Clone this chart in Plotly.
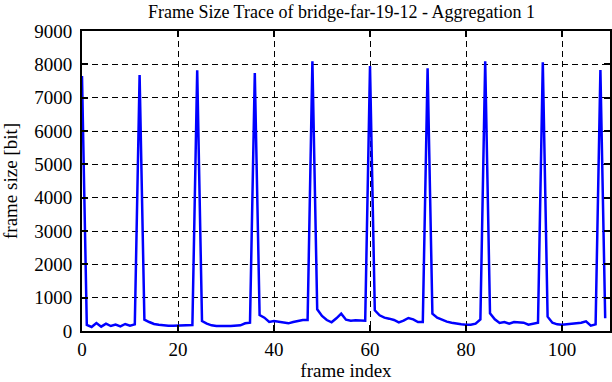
import plotly.graph_objects as go

frame_index = list(range(110))
frame_size = [
    7650, 180, 120, 240, 130, 220, 150, 190, 140, 210, 160, 200,
    7680, 340, 270, 210, 190, 170, 160, 160, 160, 160, 170, 180,
    7820, 300, 220, 170, 150, 160, 150, 150, 150, 170, 230, 250,
    7740, 480, 400, 270, 300, 280, 260, 230, 270, 310, 330, 330,
    8090, 650, 450, 330, 260, 380, 520, 340, 310, 320, 320, 310,
    7950, 620, 470, 400, 370, 330, 260, 310, 390, 350, 270, 270,
    7880, 520, 400, 330, 280, 250, 220, 200, 190, 190, 220, 350,
    8090, 530, 350, 240, 270, 220, 270, 250, 250, 190, 230, 250,
    8060, 430, 250, 200, 190, 200, 210, 230, 250, 290, 160, 200,
    7830, 380,
]
x_ticks = [0, 20, 40, 60, 80, 100]
y_ticks = [0, 1000, 2000, 3000, 4000, 5000, 6000, 7000, 8000, 9000]

FONT = "Liberation Serif, Times New Roman, serif"

fig = go.Figure()
fig.add_trace(go.Scatter(
    x=frame_index, y=frame_size, mode="lines",
    line=dict(color="#0000ff", width=2.5),
    showlegend=False,
))

axis_common = dict(
    showline=True, linecolor="black", linewidth=2, mirror="ticks",
    ticks="inside", ticklen=6, tickwidth=1.5, tickcolor="black",
    showgrid=True, gridcolor="black", gridwidth=1, griddash="6px,4px",
    zeroline=False, automargin=False,
    tickfont=dict(family=FONT, size=19, color="black"),
)

fig.update_layout(
    width=612, height=382,
    margin=dict(l=82, r=2, t=31, b=51),
    paper_bgcolor="white", plot_bgcolor="white",
    font=dict(family=FONT, size=18, color="black"),
    title=dict(
        text="Frame Size Trace of bridge-far-19-12 - Aggregation 1",
        x=0.558, xanchor="center", y=1 - 12 / 382, yanchor="middle",
        yref="container", font=dict(family=FONT, size=18, color="black"),
    ),
    xaxis=dict(
        range=[0, 110], tickvals=x_ticks,
        title=dict(text="frame index", standoff=5,
                   font=dict(family=FONT, size=19)),
        **axis_common,
    ),
    yaxis=dict(
        range=[0, 9000], tickvals=y_ticks, ticklabelstandoff=4,
        title=dict(text="frame size [bit]", standoff=14,
                   font=dict(family=FONT, size=19)),
        **axis_common,
    ),
)

fig.write_html(
    "out.html",
    config={"displayModeBar": False},
    post_script="document.body.style.margin='0';document.body.style.overflow='hidden';",
)
